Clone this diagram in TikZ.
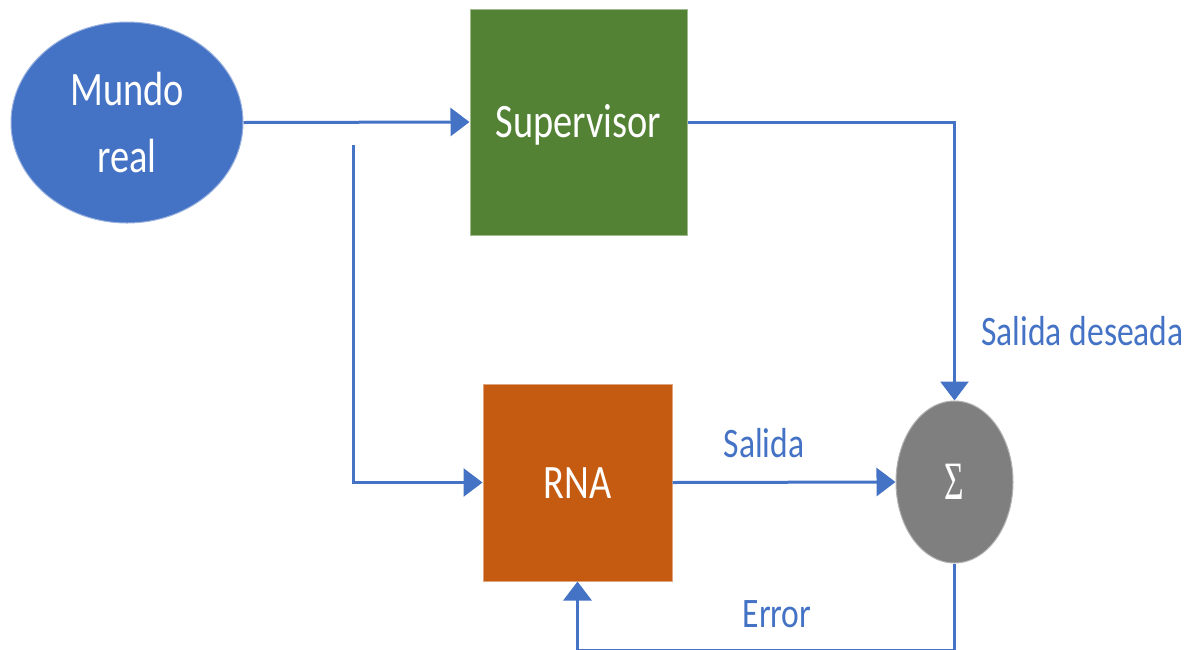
\documentclass[tikz,border=0pt]{standalone}
\usepackage{fontspec}
\setmainfont[FakeStretch=0.8]{Carlito}
\newfontfamily\sigmafont[FakeStretch=0.62]{Liberation Serif}
\usetikzlibrary{shapes.geometric,arrows.meta}

\definecolor{officeblue}{HTML}{4472C4}
\definecolor{officegreen}{HTML}{548235}
\definecolor{officeorange}{HTML}{C55A11}
\definecolor{officegray}{HTML}{7F7F7F}

\tikzset{
  blocktext/.style={text=white, font=\fontsize{24}{33.5}\selectfont, inner sep=0pt},
  blockbox/.style={blocktext, rectangle, text height=15.5pt, text depth=0pt},
  flow/.style={draw=officeblue, line width=1.5pt,
    -{Triangle[length=9.5pt,width=14pt]}},
  sigtext/.style={text=officeblue, font=\fontsize{21}{21}\selectfont, inner sep=0pt},
}

\begin{document}
\begin{tikzpicture}[x=0.5pt, y=-0.5pt]
  \useasboundingbox (0,0) rectangle (1200,649);

  % blocks
  \node[blocktext, ellipse, fill=officeblue, draw=officeblue!55!white, line width=0.5pt,
        minimum width=116pt, minimum height=100.5pt, align=center]
        (mundo) at (127,122.5) {Mundo\\real};
  \node[blockbox, fill=officegreen, draw=officegreen!55!white, line width=0.5pt,
        minimum width=108.5pt, minimum height=113pt]
        (sup) at (578.5,122) {Supervisor};
  \node[blockbox, fill=officeorange, draw=officeorange!55!white, line width=0.5pt,
        minimum width=94.5pt, minimum height=98.5pt]
        (rna) at (577.5,482.5) {RNA};
  \node[ellipse, fill=officegray, draw=officegray!60!white, line width=0.5pt,
        minimum width=58.5pt, minimum height=81pt, inner sep=0pt,
        text=white, font=\sigmafont\fontsize{27}{27}\selectfont]
        (sigma) at (954.5,482) {Σ};

  % free ends of the branch and of the feedback loop
  \coordinate (branch) at (353,145);
  \coordinate (loop) at (0,650);

  % connectors
  \draw[flow] (mundo.east) -- (sup.west);
  \draw[flow] (sup.east) -| (sigma.north);
  \draw[flow] (branch) |- (rna.west);
  \draw[flow] (rna.east) -- (sigma.west);
  \draw[flow] (sigma.south) -- (sigma.south |- loop) -| (rna.south);

  % signal labels
  \node[sigtext, anchor=base west] (deseada) at (981,345) {Salida deseada};
  \node[sigtext, anchor=base] (salida) at (764,457) {Salida};
  \node[sigtext, anchor=base] (error) at (777,627) {Error};
\end{tikzpicture}
\end{document}
